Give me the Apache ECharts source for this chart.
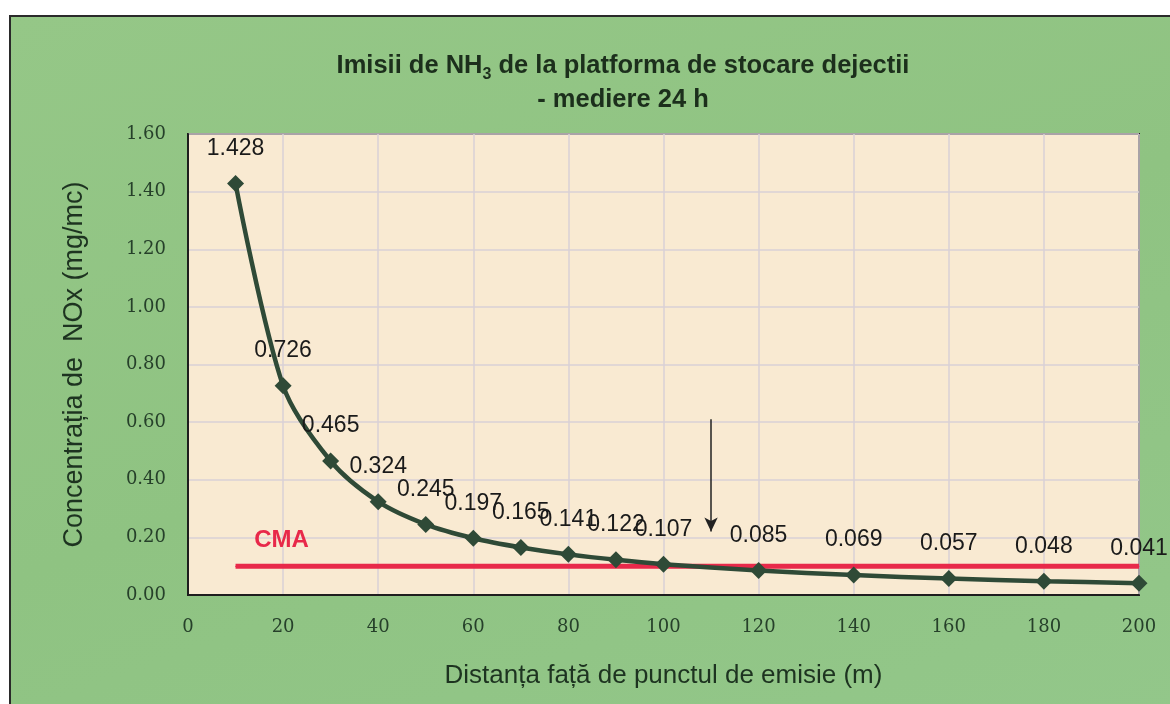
<!DOCTYPE html>
<html><head><meta charset="utf-8">
<script src="https://cdn.jsdelivr.net/npm/echarts@6/dist/echarts.min.js"></script>
<style>
html,body{margin:0;padding:0;background:#fff;}
#wrap{position:relative;width:1170px;height:704px;background:#fff;overflow:hidden;}
#frame{position:absolute;left:9px;top:15px;width:1170px;height:700px;box-sizing:border-box;border-left:2px solid #2a2a2a;border-top:2px solid #2a2a2a;background:linear-gradient(160deg,#95c787 0%,#8fc382 50%,#93c78a 100%);}
#chart{position:absolute;left:0;top:0;width:1170px;height:704px;}
</style></head>
<body><div id="wrap"><div id="frame"></div><div id="chart"></div></div>
<script>
const distances = [10, 20, 30, 40, 50, 60, 70, 80, 90, 100, 120, 140, 160, 180, 200];
const concentrations = [1.428, 0.726, 0.465, 0.324, 0.245, 0.197, 0.165, 0.141, 0.122, 0.107, 0.085, 0.069, 0.057, 0.048, 0.041];
const cmaX = [10, 200];
const cmaValue = [0.1, 0.1];
const arrowX = 110;
const arrowFrom = 0.61;
const arrowTo = 0.22;
const yTicks = ['0.00','0.20','0.40','0.60','0.80','1.00','1.20','1.40','1.60'];

const chart = echarts.init(document.getElementById('chart'), null, {renderer:'canvas'});
const tickColor = '#26402a';
const serif = '"DejaVu Serif", "Liberation Serif", serif';
const sans = '"Liberation Sans", Arial, sans-serif';
chart.setOption({
  backgroundColor: 'transparent',
  animation: false,
  title: {
    text: '{a|Imisii de NH}{s|3}{a| de la platforma de stocare dejectii}\n{a|- mediere 24 h}',
    left: 618, top: 44, textAlign: 'center',
    textStyle: {
      rich: {
        a: {fontFamily: sans, fontWeight: 'bold', fontSize: 25.5, color: '#1c2f1c', lineHeight: 34},
        s: {fontFamily: sans, fontWeight: 'bold', fontSize: 16, color: '#1c2f1c', verticalAlign: 'bottom', padding: [10,0,0,0], lineHeight: 34}
      }
    }
  },
  grid: {left: 188, right: 31, top: 134, bottom: 109, show: true, backgroundColor: '#f9ead2', borderColor: '#1e1e1e', borderWidth: 2},
  xAxis: {
    type: 'value', min: 0, max: 200, interval: 20,
    name: 'Distanța față de punctul de emisie (m)', nameLocation: 'middle', nameGap: 68,
    nameTextStyle: {fontFamily: sans, fontSize: 26, color: '#1d3320'},
    axisLine: {show: true, lineStyle: {color: '#1e1e1e', width: 2}},
    axisTick: {show: false},
    axisLabel: {fontFamily: serif, fontSize: 18, color: tickColor, margin: 23},
    splitLine: {show: true, lineStyle: {color: '#d9d1d6', width: 1.5}}
  },
  yAxis: {
    type: 'value', min: 0, max: 1.6, interval: 0.2,
    name: 'Concentrația de  NOx (mg/mc)', nameLocation: 'middle', nameGap: 100,
    nameTextStyle: {fontFamily: sans, fontSize: 27, color: '#1d3320'},
    axisLine: {show: true, lineStyle: {color: '#1e1e1e', width: 2}},
    axisTick: {show: false},
    axisLabel: {fontFamily: serif, fontSize: 18, color: tickColor, margin: 22,
      formatter: (v) => yTicks[Math.round(v / 0.2)]},
    splitLine: {show: true, lineStyle: {color: '#d9d1d6', width: 1.5}}
  },
  series: [
    {
      type: 'line', z: 3,
      data: cmaX.map((x, i) => i === 0 ? {value: [x, cmaValue[i]], label: {show: true, formatter: 'CMA', position: 'top', offset: [46, -8], fontFamily: sans, fontWeight: 'bold', fontSize: 24, color: '#e8294a'}} : [x, cmaValue[i]]),
      symbol: 'circle', symbolSize: 1, showSymbol: true,
      itemStyle: {color: '#e8294a'},
      lineStyle: {color: '#e8294a', width: 5},
      label: {show: false},
      silent: true
    },
    {
      type: 'line', z: 4,
      data: distances.map((x, i) => [x, concentrations[i]]),
      smooth: 0.3,
      symbol: 'diamond', symbolSize: 17,
      lineStyle: {color: '#2f4a37', width: 4.5},
      itemStyle: {color: '#2f4a37'},
      label: {show: true, position: 'top', distance: 15, fontFamily: sans, fontSize: 23, color: '#1a1a1a',
        formatter: (p) => p.value[1].toFixed(3)},
      markLine: {
        silent: true, symbol: ['none', 'arrow'], symbolSize: [10, 14],
        lineStyle: {color: '#222', width: 1.5, type: 'solid'},
        label: {show: false},
        data: [[{coord: [arrowX, arrowFrom]}, {coord: [arrowX, arrowTo]}]]
      }
    }
  ]
});
</script></body></html>
